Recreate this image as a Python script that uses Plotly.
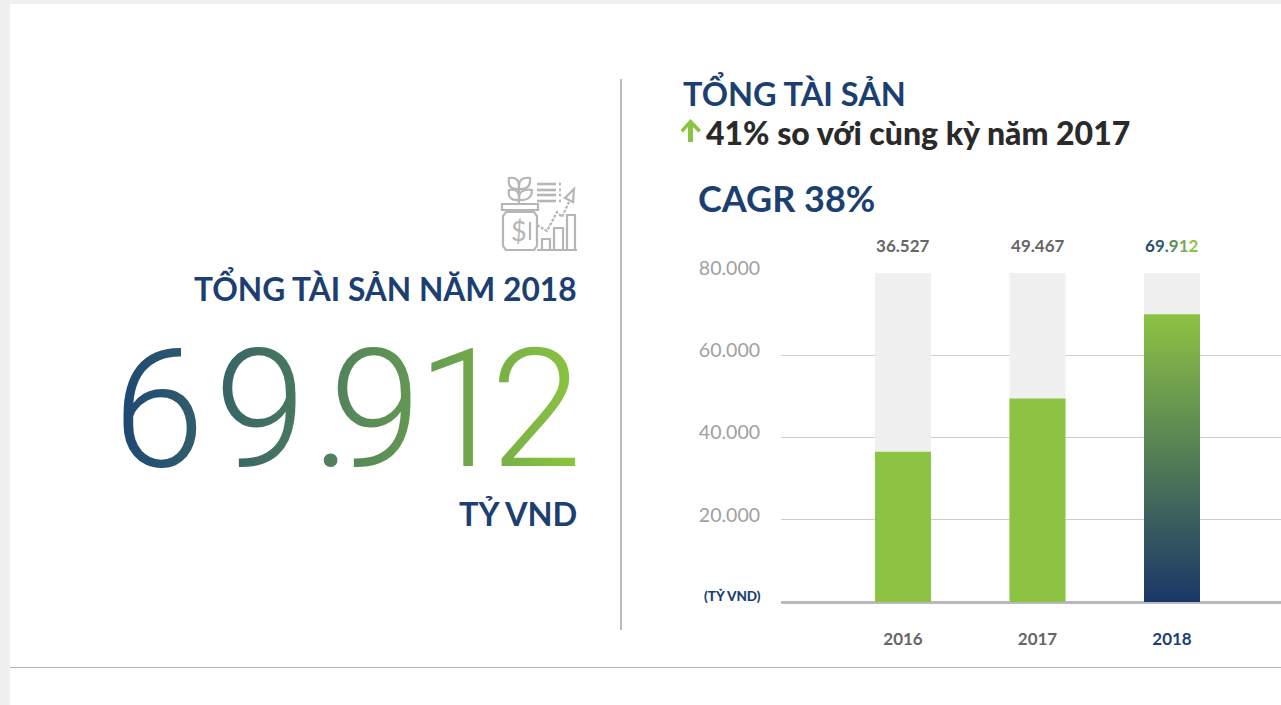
import plotly.graph_objects as go

W, H = 1281, 705
years = ["2016", "2017", "2018"]
totals = [36527, 49467, 69912]
total_labels = ["36.527", "49.467", "69.912"]
axis_max = 80000
tick_values = [20000, 40000, 60000, 80000]
tick_labels = ["20.000", "40.000", "60.000", "80.000"]

NAVY = "#1c3f72"
GREEN = "#8cc343"
GREY = "#b4b6b8"
FONT = "Lato"
BAR_W = 56 / 134.5
positions = list(range(len(years)))

fig = go.Figure()
fig.add_bar(x=positions, y=[axis_max] * 3, width=BAR_W, marker=dict(color="#f0f0f0", line_width=0), hoverinfo="skip")
fig.add_bar(x=positions, y=totals, width=BAR_W, marker=dict(color=GREEN, line_width=0))
last = positions[-1]
fig.add_scatter(
    x=[last - BAR_W / 2, last + BAR_W / 2, last + BAR_W / 2, last - BAR_W / 2, last - BAR_W / 2],
    y=[0, 0, totals[-1], totals[-1], 0],
    mode="lines", line=dict(width=0), fill="toself",
    fillgradient=dict(type="vertical", colorscale=[[0, "#1a3769"], [1, GREEN]]),
    hoverinfo="skip",
)


def X(p):
    return p / W


def Y(p):
    return 1 - p / H


def path(points, close=False):
    s = "M" + " L".join(f"{X(a):.5f},{Y(b):.5f}" for a, b in points)
    return s + (" Z" if close else "")


shapes = [
    dict(type="rect", xref="paper", yref="paper", x0=X(10), x1=1, y0=0, y1=Y(4), fillcolor="white", line_width=0, layer="below"),
    dict(type="line", xref="paper", yref="paper", x0=X(10), x1=1, y0=Y(667.5), y1=Y(667.5), line=dict(color="#b4b4b4", width=1.2), layer="below"),
    dict(type="line", xref="paper", yref="paper", x0=X(621), x1=X(621), y0=Y(79), y1=Y(630), line=dict(color="#ababab", width=1.6), layer="below"),
]


def icon(points, close=False, width=2.2, fill=None, dash=None):
    line = dict(color=GREY, width=width)
    if dash:
        line["dash"] = dash
    d = dict(type="path", xref="paper", yref="paper", path=path(points, close), line=line, layer="above")
    if fill:
        d["fillcolor"] = fill
    shapes.append(d)


def leaf(base, c1, tip, c2):
    p = lambda q: f"{X(q[0]):.5f},{Y(q[1]):.5f}"
    shapes.append(dict(type="path", xref="paper", yref="paper", layer="above", line=dict(color=GREY, width=2.2),
                       path=f"M{p(base)} Q{p(c1)} {p(tip)} Q{p(c2)} {p(base)} Z"))


# decorative icon
icon([(502, 204), (538, 204), (538, 210), (502, 210)], True)
icon([(506, 212), (534, 212), (537, 216), (537, 246), (534, 250), (506, 250), (503, 246), (503, 216)], True)
icon([(519, 184), (519, 204)])
leaf((519, 189), (507, 190), (509, 178), (520, 176))
leaf((519, 189), (531, 190), (530, 178), (518, 176))
leaf((519, 200), (507, 201), (509, 190), (520, 188))
leaf((519, 200), (532, 201), (532, 190), (518, 188))
icon([(530, 222), (530, 240)])
for y0 in (184, 190, 195, 201):
    icon([(537, y0), (556, y0)], width=2.6)
    icon([(559, y0), (561, y0)], width=2.6)
icon([(542, 250), (542, 239), (550, 239), (550, 250)])
icon([(554, 250), (554, 228), (563, 228), (563, 250)])
icon([(567, 250), (567, 215), (575, 215), (575, 250)])
icon([(537, 250), (577, 250)])
icon([(537, 225), (547, 231), (557, 212), (562, 217), (569, 202)], dash="3px,1.5px")
icon([(574, 189), (565, 198), (573, 202)], True)
# up arrow beside the subtitle
shapes.append(dict(type="path", xref="paper", yref="paper", layer="above", fillcolor=GREEN, line_width=0,
                   path=path([(690.5, 119), (701, 130), (698.5, 132.5), (693, 127), (693, 142), (688, 142), (688, 127), (683, 132.5), (680.5, 130)], True)))


def note(text, x, y, size, color=NAVY, anchor="left", weight=700, family=FONT):
    return dict(text=text, xref="paper", yref="paper", x=X(x), y=Y(y), xanchor=anchor, yanchor="middle",
                showarrow=False, font=dict(size=size, color=color, family=family, weight=weight))


annotations = [
    note("TỔNG TÀI SẢN NĂM 2018", 579, 287, 31.7, anchor="right"),
    note("69.912", 347.5, 410, 165, color="#4f7f68", anchor="center", weight=300, family="Roboto"),
    note("TỶ VND", 579, 513, 32.5, anchor="right"),
    note("TỔNG TÀI SẢN", 681, 93, 32.5),
    note("41% so với cùng kỳ năm 2017", 704, 132, 32, color="#2a2a2a", weight=900),
    note("CAGR 38%", 696, 198, 36),
    note("(TỶ VND)", 763, 596, 13.5, anchor="right", weight=900),
    note("$", 519, 230, 27, color=GREY, anchor="center", weight=400),
]

label_colors = [["#666666"] * 6, ["#666666"] * 6, ["#1e4a73", "#2f5c70", "#44706b", "#5f8f5c", "#77aa50", GREEN]]
for i, lab in enumerate(total_labels):
    txt = "".join(f'<span style="color:{c}">{ch}</span>' for ch, c in zip(lab, label_colors[i]))
    annotations.append(dict(text=txt, x=positions[i], y=axis_max, xref="x", yref="y", yanchor="middle", yshift=28,
                            showarrow=False, font=dict(size=17, family=FONT, weight=700, color="#666666")))

fig.update_layout(
    width=W, height=H, autosize=False, showlegend=False, barmode="overlay",
    margin=dict(l=0, r=0, t=0, b=0, pad=0, autoexpand=False),
    paper_bgcolor="#f0f0f0", plot_bgcolor="rgba(0,0,0,0)",
    shapes=shapes, annotations=annotations,
    xaxis=dict(domain=[X(781), 1], range=[-122 / 134.5, (500 - 122) / 134.5],
               tickmode="array", tickvals=positions,
               ticktext=years[:-1] + [f'<span style="color:{NAVY}">{years[-1]}</span>'],
               tickfont=dict(size=17, color="#666666", family=FONT, weight=700),
               showgrid=False, showline=False, zeroline=False, ticks="", ticklabelstandoff=25),
    yaxis=dict(domain=[Y(602), Y(273)], range=[0, axis_max], tickmode="array",
               tickvals=tick_values, ticktext=tick_labels,
               tickfont=dict(size=19.5, color="#a0a0a0", family=FONT, weight=400),
               showgrid=True, gridcolor="#cccccc", gridwidth=1,
               zeroline=True, zerolinecolor="#b7b9bc", zerolinewidth=3,
               showline=False, ticks="", ticklabelstandoff=20, ticklabelshift=-5),
)

post = """
document.body.style.margin='0';
document.documentElement.style.overflow='hidden';
var svg=document.querySelector('.main-svg');
var ns='http://www.w3.org/2000/svg';
var defs=document.createElementNS(ns,'defs');
var g=document.createElementNS(ns,'linearGradient');
g.setAttribute('id','numgrad');g.setAttribute('x1','0');g.setAttribute('x2','1');g.setAttribute('y1','0');g.setAttribute('y2','0');
[['0','#1d4674'],['1','#8cc63f']].forEach(function(s){var t=document.createElementNS(ns,'stop');t.setAttribute('offset',s[0]);t.setAttribute('stop-color',s[1]);g.appendChild(t);});
defs.appendChild(g);svg.appendChild(defs);
document.querySelectorAll('.annotation-text').forEach(function(e){if(e.textContent==='69.912'&&parseFloat(e.style.fontSize)>100){e.style.fill='url(#numgrad)';e.setAttribute('dx','0 10 6 -22 -4 -18');}});
"""
fig.write_html("out.html", post_script=post, config=dict(displayModeBar=False))
